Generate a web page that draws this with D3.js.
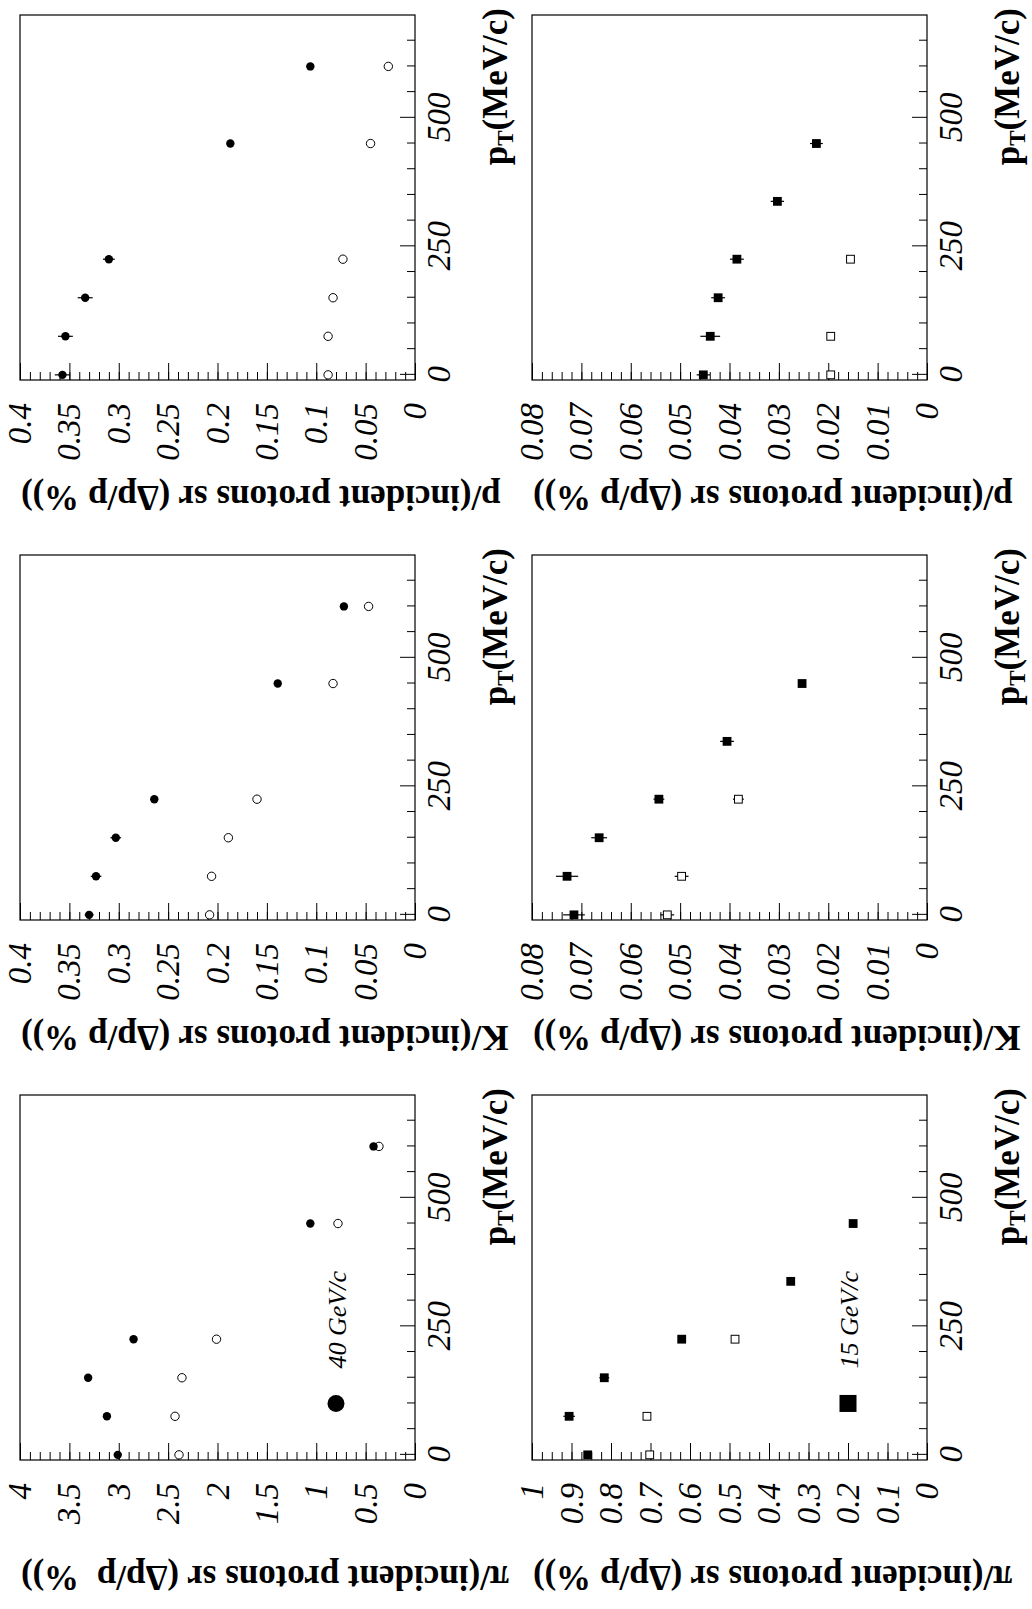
<!DOCTYPE html>
<html>
<head>
<meta charset="utf-8">
<script src="https://cdn.jsdelivr.net/npm/d3@7"></script>
<style>
  html, body { margin: 0; padding: 0; background: #fff; }
  svg { display: block; }
  .tick text { font-family: "Liberation Serif", "Times New Roman", serif; font-style: italic; font-size: 33px; fill: #000; }
  .tick line { stroke: #000; stroke-width: 1; }
  .title { font-family: "Liberation Serif", "Times New Roman", serif; font-weight: bold; fill: #000; }
  .legend { font-family: "Liberation Serif", "Times New Roman", serif; font-style: italic; font-size: 26px; fill: #000; }
</style>
</head>
<body>
<svg id="chart" width="1032" height="1609"></svg>
<script>
// ---- data -------------------------------------------------------------
// transverse-momentum bin centres (MeV/c)
const pT40 = [0, 75, 150, 225, 450, 600];
const pT15 = [0, 75, 150, 225, 337.5, 450];
const pT15Open = [0, 75, 225];

// 40 GeV/c beam (circles)
const pi40Filled = [3.01, 3.12, 3.31, 2.85, 1.06, 0.42];
const pi40FilledErr = [0.02, 0.02, 0.02, 0.02, 0.01, 0.01];
const pi40Open = [2.39, 2.43, 2.36, 2.01, 0.78, 0.365];
const pi40OpenErr = [0.02, 0.02, 0.02, 0.02, 0.01, 0.01];

const k40Filled = [0.330, 0.323, 0.303, 0.264, 0.139, 0.072];
const k40FilledErr = [0.0045, 0.0054, 0.0054, 0.003, 0.002, 0.002];
const k40Open = [0.208, 0.206, 0.189, 0.160, 0.083, 0.047];
const k40OpenErr = [0.002, 0.002, 0.002, 0.002, 0.001, 0.001];

const p40Filled = [0.357, 0.354, 0.334, 0.310, 0.187, 0.106];
const p40FilledErr = [0.0078, 0.0075, 0.0076, 0.006, 0.003, 0.002];
const p40Open = [0.088, 0.088, 0.083, 0.073, 0.045, 0.027];
const p40OpenErr = [0.001, 0.001, 0.001, 0.001, 0.001, 0.001];

// 15 GeV/c beam (squares)
const pi15Filled = [0.859, 0.906, 0.817, 0.621, 0.345, 0.187];
const pi15FilledErr = [0.008, 0.0147, 0.0126, 0.008, 0.006, 0.005];
const pi15Open = [0.702, 0.709, 0.486];
const pi15OpenErr = [0.005, 0.005, 0.005];

const k15Filled = [0.0715, 0.0729, 0.0664, 0.0543, 0.0405, 0.0253];
const k15FilledErr = [0.0022, 0.00225, 0.0016, 0.0011, 0.0014, 0.0006];
const k15Open = [0.0526, 0.0497, 0.0382];
const k15OpenErr = [0.0014, 0.0014, 0.0011];

const p15Filled = [0.0453, 0.0439, 0.0423, 0.0385, 0.0303, 0.0224];
const p15FilledErr = [0.00135, 0.002, 0.0014, 0.0014, 0.00135, 0.0013];
const p15Open = [0.0195, 0.0195, 0.0155];
const p15OpenErr = [0.0004, 0.0004, 0.0004];

// axis ticks
const pTDomain = [-10, 700];
const pTTicks = [0, 250, 500];
const pTTickLabels = ["0", "250", "500"];
const pi40Ticks = [0, 0.5, 1, 1.5, 2, 2.5, 3, 3.5, 4];
const pi40TickLabels = ["0", "0.5", "1", "1.5", "2", "2.5", "3", "3.5", "4"];
const had40Ticks = [0, 0.05, 0.1, 0.15, 0.2, 0.25, 0.3, 0.35, 0.4];
const had40TickLabels = ["0", "0.05", "0.1", "0.15", "0.2", "0.25", "0.3", "0.35", "0.4"];
const pi15Ticks = [0, 0.1, 0.2, 0.3, 0.4, 0.5, 0.6, 0.7, 0.8, 0.9, 1];
const pi15TickLabels = ["0", "0.1", "0.2", "0.3", "0.4", "0.5", "0.6", "0.7", "0.8", "0.9", "1"];
const had15Ticks = [0, 0.01, 0.02, 0.03, 0.04, 0.05, 0.06, 0.07, 0.08];
const had15TickLabels = ["0", "0.01", "0.02", "0.03", "0.04", "0.05", "0.06", "0.07", "0.08"];

// titles
const yTitles40 = ["π/(incident protons sr (Δp/p  %))", "K/(incident protons sr (Δp/p %))", "p/(incident protons sr (Δp/p %))"];
const yTitles15 = ["π/(incident protons sr (Δp/p %))", "K/(incident protons sr (Δp/p %))", "p/(incident protons sr (Δp/p %))"];
const beamLabels = ["40 GeV/c", "15 GeV/c"];
const legendValues = [0.8, 0.2];
const legendPT = 100;

// ---- layout (landscape page, turned a quarter turn on screen) ----------
const PAGE_W = 1609;
const colX = [[149, 514], [689, 1054], [1229, 1594]];
const rowY = [[20, 415], [532, 927]];

const panels = [
  { col: 0, row: 0, max: 4,    ticks: pi40Ticks,  labels: pi40TickLabels,  minor: 0.1,
    filled: [pT40, pi40Filled, pi40FilledErr], open: [pT40, pi40Open, pi40OpenErr], title: yTitles40[0], shape: "circle" },
  { col: 1, row: 0, max: 0.4,  ticks: had40Ticks, labels: had40TickLabels, minor: 0.01,
    filled: [pT40, k40Filled, k40FilledErr], open: [pT40, k40Open, k40OpenErr], title: yTitles40[1], shape: "circle" },
  { col: 2, row: 0, max: 0.4,  ticks: had40Ticks, labels: had40TickLabels, minor: 0.01,
    filled: [pT40, p40Filled, p40FilledErr], open: [pT40, p40Open, p40OpenErr], title: yTitles40[2], shape: "circle" },
  { col: 0, row: 1, max: 1,    ticks: pi15Ticks,  labels: pi15TickLabels,  minor: 0.025,
    filled: [pT15, pi15Filled, pi15FilledErr], open: [pT15Open, pi15Open, pi15OpenErr], title: yTitles15[0], shape: "square" },
  { col: 1, row: 1, max: 0.08, ticks: had15Ticks, labels: had15TickLabels, minor: 0.002,
    filled: [pT15, k15Filled, k15FilledErr], open: [pT15Open, k15Open, k15OpenErr], title: yTitles15[1], shape: "square" },
  { col: 2, row: 1, max: 0.08, ticks: had15Ticks, labels: had15TickLabels, minor: 0.002,
    filled: [pT15, p15Filled, p15FilledErr], open: [pT15Open, p15Open, p15OpenErr], title: yTitles15[2], shape: "square" }
];

const svg = d3.select("#chart");
const page = svg.append("g").attr("transform", `translate(0,${PAGE_W}) rotate(-90)`);

function dropDomain(sel) {
  sel.select(".domain").remove();
  sel.attr("font-family", null).attr("font-size", null);
}

function drawMarker(sel, shape, filled, size) {
  if (shape === "circle") {
    sel.append("circle").attr("r", size / 2)
      .attr("fill", filled ? "#000" : "#fff")
      .attr("stroke", "#000").attr("stroke-width", filled ? 0 : 1);
  } else {
    const s = filled ? size : size - 1;
    sel.append("rect").attr("x", -s / 2).attr("y", -s / 2).attr("width", s).attr("height", s)
      .attr("fill", filled ? "#000" : "#fff")
      .attr("stroke", "#000").attr("stroke-width", filled ? 0 : 1);
  }
}

panels.forEach(p => {
  const [x0, x1] = colX[p.col];
  const [y0, y1] = rowY[p.row];
  const x = d3.scaleLinear().domain(pTDomain).range([x0, x1]);
  const y = d3.scaleLinear().domain([0, p.max]).range([y1, y0]);
  const g = page.append("g");

  // value axis: minor then major ticks, pointing into the frame
  const nMinor = Math.round(p.max / p.minor);
  const minorVals = d3.range(1, nMinor).map(i => i * p.minor);
  g.append("g").attr("transform", `translate(${x0},0)`)
    .call(d3.axisLeft(y).tickValues(minorVals).tickSizeInner(-8).tickSizeOuter(0).tickFormat(""))
    .call(dropDomain);
  g.append("g").attr("transform", `translate(${x0},0)`)
    .call(d3.axisLeft(y).tickValues(p.ticks).tickSizeInner(-17).tickSizeOuter(0).tickPadding(23)
      .tickFormat((d, i) => p.labels[i]))
    .call(dropDomain);

  // pT axis
  const pTMinor = d3.range(50, 700, 50).filter(v => !pTTicks.includes(v));
  g.append("g").attr("transform", `translate(0,${y1})`)
    .call(d3.axisBottom(x).tickValues(pTMinor).tickSizeInner(-8).tickSizeOuter(0).tickFormat(""))
    .call(dropDomain);
  g.append("g").attr("transform", `translate(0,${y1})`)
    .call(d3.axisBottom(x).tickValues(pTTicks).tickSizeInner(-15).tickSizeOuter(0).tickPadding(12)
      .tickFormat((d, i) => pTTickLabels[i]))
    .call(dropDomain);

  // frame
  g.append("rect").attr("x", x0).attr("y", y0).attr("width", x1 - x0).attr("height", y1 - y0)
    .attr("fill", "none").attr("stroke", "#000").attr("stroke-width", 1.2);

  // data: error bars then markers
  const size = p.shape === "circle" ? 8.4 : 8.8;
  [[p.open, false], [p.filled, true]].forEach(([series, filled]) => {
    const [px, vals, errs] = series;
    const pts = px.map((t, i) => ({ t, v: vals[i], e: errs[i] }));
    g.append("g").selectAll("line").data(pts).join("line")
      .attr("x1", d => x(d.t)).attr("x2", d => x(d.t))
      .attr("y1", d => y(d.v - d.e)).attr("y2", d => y(d.v + d.e))
      .attr("stroke", "#000").attr("stroke-width", 1.2);
    g.append("g").selectAll("g").data(pts).join("g")
      .attr("transform", d => `translate(${x(d.t)},${y(d.v)})`)
      .each(function () { drawMarker(d3.select(this), p.shape, filled, size); });
  });

  // axis titles
  g.append("text").attr("class", "title")
    .attr("transform", `translate(${x0 - 106},${y0 + 1}) rotate(-90)`)
    .attr("text-anchor", "end").style("font-size", "35px").style("white-space", "pre")
    .text(p.title);

  const t = g.append("text").attr("class", "title")
    .attr("x", x1 + 7).attr("y", y1 + 92)
    .attr("text-anchor", "end").style("font-size", "35px");
  t.append("tspan").text("p");
  t.append("tspan").attr("dy", 6).style("font-size", "23px").text("T");
  t.append("tspan").attr("dy", -6).text("(MeV/c)");

  // beam legend in the pion panels
  if (p.col === 0) {
    const lx = x(legendPT), ly = y(legendValues[p.row]);
    const lg = g.append("g").attr("transform", `translate(${lx},${ly})`);
    drawMarker(lg, p.shape, true, 17);
    g.append("text").attr("class", "legend")
      .attr("x", lx + 35).attr("y", ly + 10)
      .text(beamLabels[p.row]);
  }
});
</script>
</body>
</html>
